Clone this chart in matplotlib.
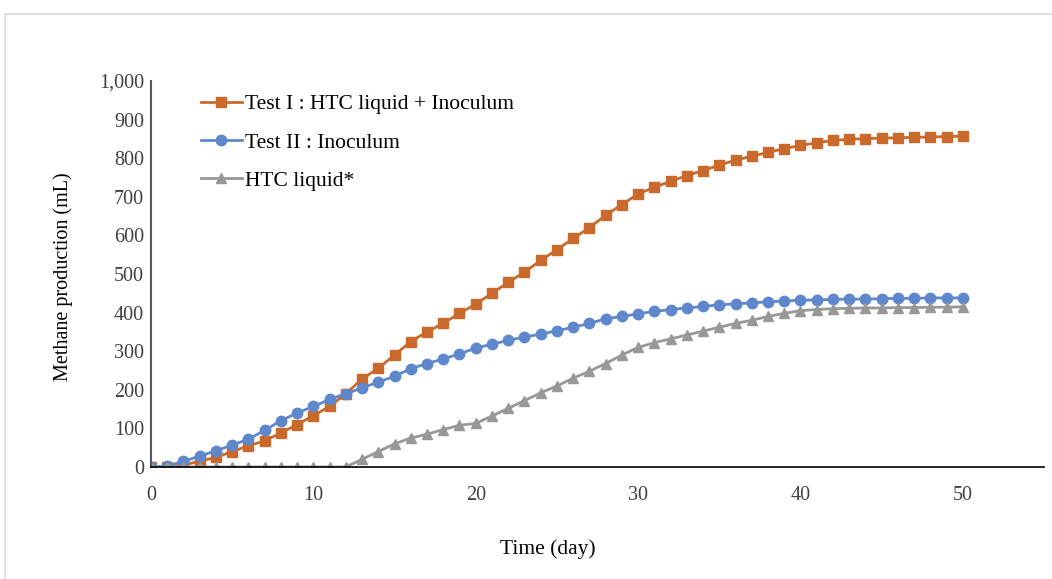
import matplotlib.pyplot as plt
from matplotlib.patches import Rectangle

plt.rcParams['font.family'] = ['Liberation Serif', 'DejaVu Serif']

# days 0..50
days = list(range(0, 51))

test1 = [0, 0, 5, 15, 25, 40, 55, 68, 88, 110,
         133, 157, 190, 228, 256, 290, 325, 350, 372, 398,
         422, 450, 478, 505, 535, 563, 592, 620, 652, 680,
         707, 725, 740, 755, 768, 782, 795, 805, 815, 825,
         833, 840, 846, 849, 851, 852, 853, 854, 855, 856, 857]

test2 = [0, 2, 15, 28, 42, 57, 72, 95, 120, 140,
         157, 175, 190, 205, 220, 235, 255, 268, 280, 293,
         308, 318, 328, 337, 344, 353, 362, 372, 384, 390,
         397, 403, 408, 412, 416, 420, 423, 425, 428, 430,
         432, 433, 434, 435, 435, 436, 437, 437, 438, 438, 438]

htc = [0, 0, 0, 0, 0, 0, 0, 0, 0, 0,
       0, 0, 0, 20, 40, 60, 75, 85, 97, 108,
       113, 132, 152, 172, 192, 210, 230, 248, 268, 290,
       310, 322, 332, 342, 352, 362, 372, 380, 390, 398,
       405, 408, 410, 411, 412, 412, 413, 413, 414, 414, 415]

labels = ['Test I : HTC liquid + Inoculum', 'Test II : Inoculum', 'HTC liquid*']
colors = ['#C96A2C', '#5F87CC', '#989898']

fig = plt.figure(figsize=(10.52, 5.79), dpi=100)
# light outer frame
fig.patches.append(Rectangle((5/1052, -0.1), 1.2, 1 - 14/579 + 0.1,
                             transform=fig.transFigure, fill=False,
                             edgecolor='#d9d9d9', linewidth=1.2))

ax = fig.add_axes([151/1052, 1 - 467/579, 893/1052, 386/579])

ax.plot(days, test1, color=colors[0], marker='s', markersize=7.5, linewidth=2, label=labels[0])
ax.plot(days, test2, color=colors[1], marker='o', markersize=7.5, linewidth=2, label=labels[1])
ax.plot(days, htc, color=colors[2], marker='^', markersize=7.5, linewidth=2, label=labels[2])

ax.set_xlim(0, 55)
ax.set_ylim(0, 1000)
ax.set_xticks(range(0, 51, 10))
ax.set_yticks(range(0, 1001, 100))
ax.set_yticklabels([f'{v:,}' for v in range(0, 1001, 100)])
ax.tick_params(length=0, labelsize=14.5, colors='#404040', pad=5)
ax.tick_params(axis='x', pad=14)

for s in ['top', 'right']:
    ax.spines[s].set_visible(False)
ax.spines['left'].set_color('#595959')
ax.spines['left'].set_linewidth(1.5)
ax.spines['bottom'].set_color('black')
ax.spines['bottom'].set_linewidth(1.2)

ax.set_xlabel('Time (day)', fontsize=15.5)
ax.set_ylabel('Methane production (mL)', fontsize=14.5)
ax.xaxis.set_label_coords((548 - 151) / 893, -(539 - 467) / 386)
ax.yaxis.set_label_coords(-(151 - 73) / 893, (467 - 277) / 386)

ax.legend(loc='upper left', bbox_to_anchor=(0.034, 1.016), frameon=False,
          fontsize=15.5, handlelength=1.9, labelspacing=0.85, handletextpad=0.15)

fig.savefig('out.png', dpi=100)
